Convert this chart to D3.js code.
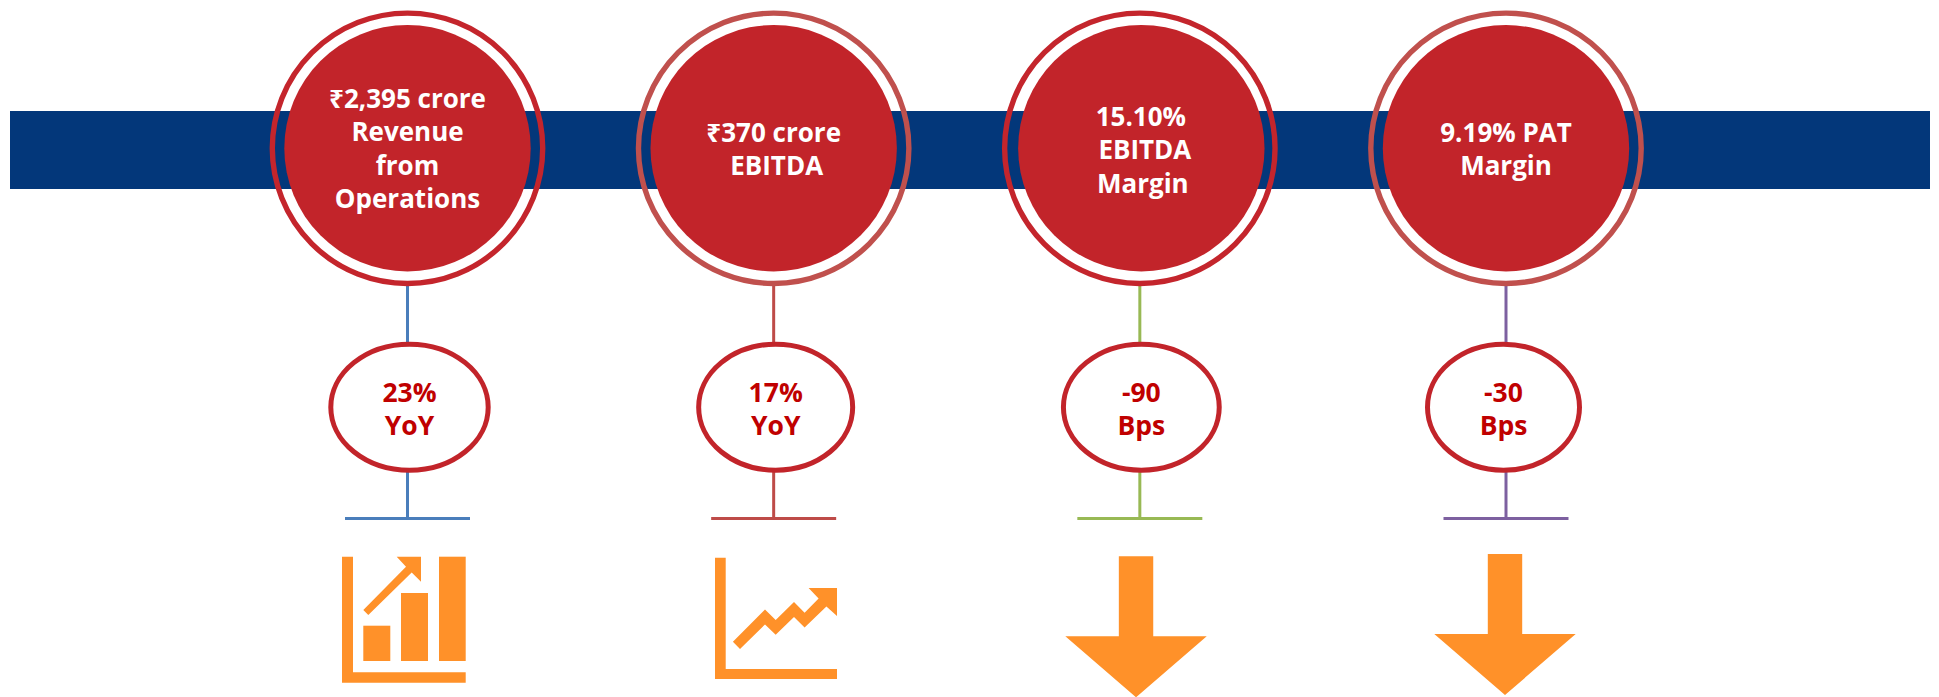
<!DOCTYPE html>
<html>
<head>
	<title>Highlights</title>
	<script src="https://cdn.jsdelivr.net/npm/d3@7"></script>
	<style type="text/css">
		html, body { margin: 0; padding: 0; background: #fff; }
		svg { display: block; }
		text { font-family: 'Open Sans', 'Noto Sans', sans-serif; font-weight: 700; text-anchor: middle; }
	</style>
</head>
<body>
<svg id="chart" width="1939" height="697" xmlns="http://www.w3.org/2000/svg"></svg>

<script type="text/javascript">
	var categories = ["Revenue", "EBITDA", "EBITDA Margin", "PAT Margin"];
	var headlines = [
		["₹2,395 crore", "Revenue", "from", "Operations"],
		["₹370 crore", "EBITDA"],
		["15.10%", "EBITDA", "Margin"],
		["9.19% PAT", "Margin"]
	];
	var changes = [
		["23%", "YoY"],
		["17%", "YoY"],
		["-90", "Bps"],
		["-30", "Bps"]
	];
	var ringColors = ["#c4252c", "#c0504d", "#c4252c", "#c0504d"];
	var stemColors = ["#4a7ebb", "#be4b48", "#98b954", "#7d60a0"];
	var iconKinds = ["bars", "line", "down", "down"];

	var RED = "#c2242a", NAVY = "#03377a", ORANGE = "#ff9129", DARKRED = "#c00000";
	var svg = d3.select("#chart");

	var x = d3.scalePoint().domain(categories).range([407.5, 1506]);

	// the original slide is hand placed, so nudge things per column
	var headTop = [108, 141.7, 126, 141.7];
	var headShift = [[0, 0, 0, 0], [0, 3], [1, 5, 3], [0, 0]];
	var ovalShift = [2, 2, 1.5, -2.5];
	var ovalRx = [78.7, 77, 77.9, 76];

	// band behind the circles
	svg.append("rect")
		.attr("x", 10).attr("y", 111)
		.attr("width", 1920).attr("height", 78)
		.attr("fill", NAVY);

	var groups = svg.selectAll("g.col")
		.data(categories)
		.enter().append("g")
		.attr("class", "col")
		.attr("transform", d => "translate(" + x(d) + ",0)");

	// stems, drawn first so the ellipse sits on top
	groups.append("line")
		.attr("x1", 0).attr("x2", 0).attr("y1", 283).attr("y2", 518)
		.attr("stroke", (d, i) => stemColors[i]).attr("stroke-width", 3);
	groups.append("line")
		.attr("x1", -62.5).attr("x2", 62.5).attr("y1", 518.5).attr("y2", 518.5)
		.attr("stroke", (d, i) => stemColors[i]).attr("stroke-width", 3);

	groups.append("circle")
		.attr("cx", 0).attr("cy", 148.3).attr("r", 135.2)
		.attr("fill", "none")
		.attr("stroke", (d, i) => ringColors[i]).attr("stroke-width", 5.4);
	groups.append("circle")
		.attr("cx", (d, i) => i == 2 ? 1.5 : 0).attr("cy", 148.2).attr("r", 123.2)
		.attr("fill", RED);

	groups.append("ellipse")
		.attr("cx", (d, i) => ovalShift[i]).attr("cy", 407.2)
		.attr("rx", (d, i) => ovalRx[i]).attr("ry", 63)
		.attr("fill", "#fff")
		.attr("stroke", RED).attr("stroke-width", 5);

	groups.each(function (d, i) {
		d3.select(this).selectAll("text.head")
			.data(headlines[i])
			.enter().append("text")
			.attr("class", "head")
			.attr("x", (t, j) => headShift[i][j])
			.attr("y", (t, j) => headTop[i] + j * 33.3)
			.attr("font-size", 26)
			.attr("fill", "#fff")
			.text(t => t);
		d3.select(this).selectAll("text.change")
			.data(changes[i])
			.enter().append("text")
			.attr("class", "change")
			.attr("x", ovalShift[i])
			.attr("y", (t, j) => 401.7 + j * 33)
			.attr("font-size", 26.5)
			.attr("fill", DARKRED)
			.text(t => t);
	});

	function poly(g, pts) {
		var p = d3.path();
		pts.forEach((q, k) => k ? p.lineTo(q[0], q[1]) : p.moveTo(q[0], q[1]));
		p.closePath();
		g.append("path").attr("d", p.toString()).attr("fill", ORANGE);
	}

	var icons = {
		bars: function (g) {
			g.attr("transform", "translate(342,556.7)");
			poly(g, [[0, 0], [11, 0], [11, 115.6], [123.7, 115.6], [123.7, 126], [0, 126]]);
			g.selectAll("rect")
				.data([[21.3, 69, 27, 35.3], [59, 36.3, 27, 68], [97, 0, 26.7, 104.3]])
				.enter().append("rect")
				.attr("x", d => d[0]).attr("y", d => d[1])
				.attr("width", d => d[2]).attr("height", d => d[3])
				.attr("fill", ORANGE);
			poly(g, [[21.3, 53.3], [64, 10], [54.7, 0], [79, 0], [79, 25], [69.7, 15.7], [26.3, 58.3]]);
		},
		line: function (g) {
			g.attr("transform", "translate(715,557.7)");
			poly(g, [[0, 0], [10.7, 0], [10.7, 111.3], [122, 111.3], [122, 121.3], [0, 121.3]]);
			poly(g, [[17.9, 84], [50, 51.7], [60.7, 62.3], [79, 44.3], [89.6, 55], [103.6, 40.7], [93.6, 30.3], [122, 30.3],
				[122, 58.3], [111.4, 48.7], [89.6, 69.7], [79, 59.3], [60.7, 77], [50, 66.7], [25, 91.3]]);
		},
		down: function (g, i) {
			// third arrow sits a little left and lower than the last one
			var ax = x(categories[i]) + (i == 2 ? -3.8 : -1);
			g.attr("transform", "translate(" + ax + "," + (i == 2 ? 556.3 : 554) + ")");
			poly(g, [[-17.2, 0], [17.2, 0], [17.2, 80], [70.7, 80], [0, 141], [-70.7, 80], [-17.2, 80]]);
		}
	};

	iconKinds.forEach((k, i) => icons[k](svg.append("g"), i));
</script>
</body>
</html>
